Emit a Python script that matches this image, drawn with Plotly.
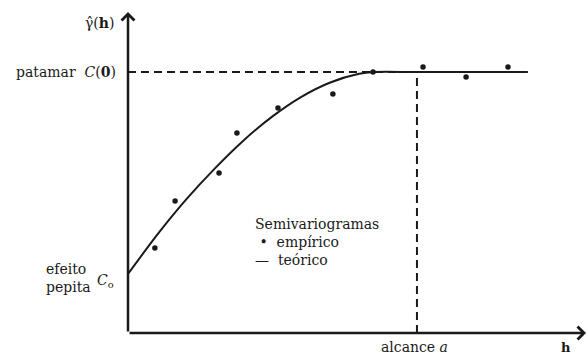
import plotly.graph_objects as go

# Empirical semivariogram (lag h, semivariance)
emp_h = [0.93, 1.63, 3.15, 3.77, 5.19, 7.09, 8.48, 10.21, 11.70, 13.15]
emp_g = [0.326, 0.506, 0.613, 0.766, 0.862, 0.916, 1.0, 1.019, 0.981, 1.019]

# Theoretical model curve
teo_h = [0, 1, 2, 3, 4, 5, 6, 7, 8, 8.5, 10, 13.84]
teo_g = [0.226, 0.375, 0.51, 0.63, 0.738, 0.83, 0.905, 0.96, 0.993, 1.0, 1.0, 1.0]

# Model parameters
sill = 1.0        # patamar C(0)
nugget = 0.226    # efeito pepita C0
alcance = 10.0    # range a

x_max = 15.85
y_max = 1.23

FONT = "DejaVu Serif"
INK = "#1a1a1a"

fig = go.Figure()

# sill and range guide lines
fig.add_trace(go.Scatter(x=[0, alcance], y=[sill, sill], mode="lines",
                         line=dict(color=INK, width=2, dash="8px,5px"),
                         hoverinfo="skip", showlegend=False))
fig.add_trace(go.Scatter(x=[alcance, alcance], y=[0, sill], mode="lines",
                         line=dict(color=INK, width=2, dash="8px,5px"),
                         hoverinfo="skip", showlegend=False))

# theoretical curve
fig.add_trace(go.Scatter(x=teo_h, y=teo_g, mode="lines", line_shape="spline",
                         line=dict(color=INK, width=2, smoothing=0.8),
                         name="teórico", showlegend=False))

# empirical points
fig.add_trace(go.Scatter(x=emp_h, y=emp_g, mode="markers",
                         marker=dict(color=INK, size=5.5), name="empírico",
                         showlegend=False))

annotations = []

# axes drawn as arrows
annotations.append(dict(x=x_max, y=0, ax=0, ay=0, xref="x", yref="y",
                        axref="x", ayref="y", showarrow=True, arrowhead=4,
                        arrowsize=1, arrowwidth=2.5, arrowcolor=INK, text=""))
annotations.append(dict(x=0, y=y_max, ax=0, ay=0, xref="x", yref="y",
                        axref="x", ayref="y", showarrow=True, arrowhead=4,
                        arrowsize=1, arrowwidth=2.5, arrowcolor=INK, text=""))

def label(text, x, y, xref="x", yref="y", xanchor="center", size=14, align="left"):
    annotations.append(dict(text=text, x=x, y=y, xref=xref, yref=yref,
                            xanchor=xanchor, yanchor="middle", showarrow=False,
                            align=align,
                            font=dict(family=FONT, size=size, color=INK)))

label("γ\u0302(<b>h</b>)", -0.061, 1.188, xref="paper")
label("patamar  <i>C</i>(<b>0</b>)", -0.022, sill, xref="paper", xanchor="right")
label("efeito<br>pepita", -0.183, 0.21, xref="paper", xanchor="left")
label("<i>C</i><sub>o</sub>", -0.05, 0.20, xref="paper")
label("alcance <i>a</i>", 0.548, -0.045, xref="paper", yref="paper", xanchor="left")
label("<b>h</b>", 0.956, -0.045, xref="paper", yref="paper", size=13)

# legend block
label("Semivariogramas<br>\u00a0•\u00a0\u00a0empírico<br>—\u00a0\u00a0teórico",
      4.33, 0.35, xanchor="left")

fig.update_layout(
    width=587, height=356,
    margin=dict(l=128, r=1, t=12, b=23),
    paper_bgcolor="white", plot_bgcolor="white",
    xaxis=dict(range=[0, x_max], visible=False, fixedrange=True),
    yaxis=dict(range=[0, y_max], visible=False, fixedrange=True),
    annotations=annotations,
    showlegend=False,
)

fig.write_html("out.html")
